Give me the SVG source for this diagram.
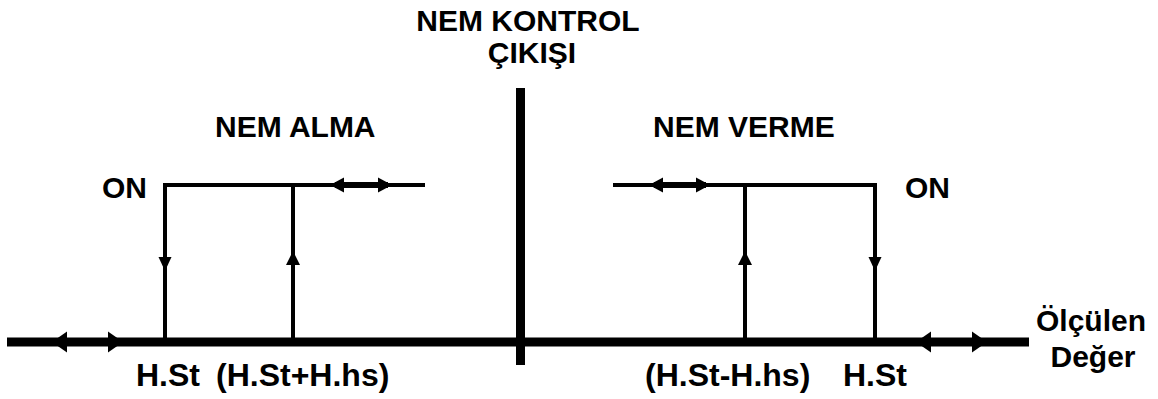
<svg xmlns="http://www.w3.org/2000/svg" width="1158" height="399" viewBox="0 0 1158 399">
<style>
text{font-family:"Liberation Sans",Arial,sans-serif;font-weight:bold;font-size:30px;fill:#000}
.lbl{font-size:32px}
.ax{stroke:#000;stroke-width:9;fill:none}
.ln{stroke:#000;stroke-width:4;fill:none}
.thk{stroke:#000;stroke-width:6;fill:none}
.ah{fill:#000;stroke:none}
</style>
<rect width="1158" height="399" fill="#fff"/>
<g id="axes">
<line class="ax" x1="7" y1="342" x2="1029" y2="342"/>
<line class="ax" x1="520.5" y1="88" x2="520.5" y2="365"/>
<polygon class="ah" points="52,342 67,331.5 67,352.5"/>
<polygon class="ah" points="123,342 108,331.5 108,352.5"/>
<polygon class="ah" points="916,342 931,331.5 931,352.5"/>
<polygon class="ah" points="987,342 972,331.5 972,352.5"/>
</g>
<g id="connectors">
<g id="nem-alma-curve">
<polyline class="ln" points="425,185 165,185 165,342"/>
<line class="ln" x1="293" y1="185" x2="293" y2="342"/>
<line class="thk" x1="335" y1="185" x2="388" y2="185"/>
<polygon class="ah" points="330,185 344,177.5 344,192.5"/>
<polygon class="ah" points="392,185 378,177.5 378,192.5"/>
<polygon class="ah" points="165,271 158.5,257 171.5,257"/>
<polygon class="ah" points="293,251 286,265 300,265"/>
</g>
<g id="nem-verme-curve">
<polyline class="ln" points="613,185 875,185 875,342"/>
<line class="ln" x1="745" y1="185" x2="745" y2="342"/>
<line class="thk" x1="654" y1="185" x2="706" y2="185"/>
<polygon class="ah" points="649,185 663,177.5 663,192.5"/>
<polygon class="ah" points="710,185 696,177.5 696,192.5"/>
<polygon class="ah" points="875,271 868.5,257 881.5,257"/>
<polygon class="ah" points="745,251 738,265 752,265"/>
</g>
</g>
<g id="title">
<text x="528" y="31" text-anchor="middle">NEM KONTROL</text>
<text x="532" y="63" text-anchor="middle">ÇIKIŞI</text>
</g>
<g id="nem-alma-labels">
<text x="215" y="137">NEM ALMA</text>
<text x="102" y="198">ON</text>
<text class="lbl" x="136" y="386">H.St</text>
<text class="lbl" x="216" y="386">(H.St+H.hs)</text>
</g>
<g id="nem-verme-labels">
<text x="653" y="137">NEM VERME</text>
<text x="905" y="198">ON</text>
<text class="lbl" x="645" y="386">(H.St-H.hs)</text>
<text class="lbl" x="843" y="386">H.St</text>
</g>
<g id="axis-label">
<text x="1091" y="331" text-anchor="middle">Ölçülen</text>
<text x="1093" y="367" text-anchor="middle">Değer</text>
</g>
</svg>
